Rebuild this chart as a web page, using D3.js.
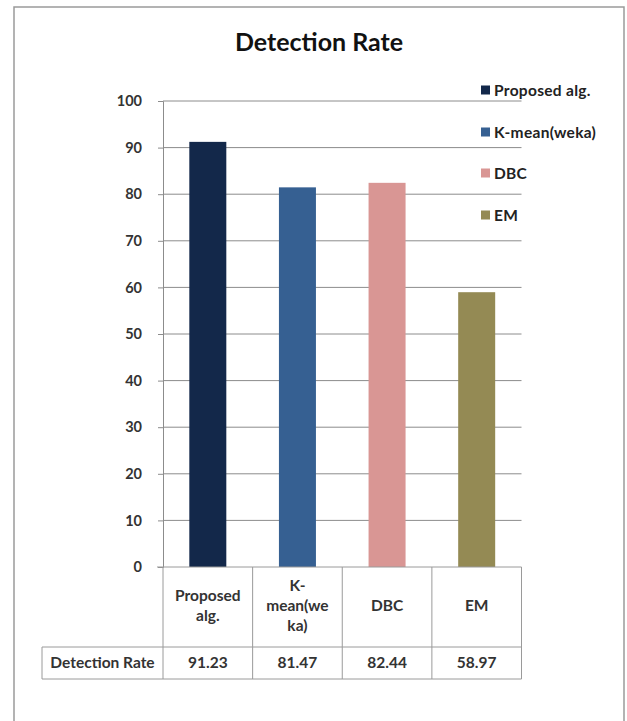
<!DOCTYPE html>
<html><head><meta charset="utf-8">
<script src="https://cdn.jsdelivr.net/npm/d3@7"></script>
<style>body{margin:0;background:#fff}svg{display:block}</style>
</head><body>
<script>
const categories = ["Proposed alg.", "K-mean(weka)", "DBC", "EM"];
const categoryLines = [["Proposed", "alg."], ["K-", "mean(we", "ka)"], ["DBC"], ["EM"]];
const values = [91.23, 81.47, 82.44, 58.97];
const valueLabels = ["91.23", "81.47", "82.44", "58.97"];
const yTicks = [0, 10, 20, 30, 40, 50, 60, 70, 80, 90, 100];
const colors = ["#13284a", "#366092", "#d99694", "#948a54"];
const rowLabel = "Detection Rate";
const chartTitle = "Detection Rate";

(function () {
const W = 627, H = 721;
const font = "Lato, 'Open Sans', sans-serif";
const svg = d3.select("body").append("svg").attr("width", W).attr("height", H);

// frame
svg.append("path").attr("d", `M14,${H} V7 H624 V${H}`).attr("fill", "none").attr("stroke", "#9a9a9a").attr("stroke-width", 1.5);

const pLeft = 163, pRight = 521.5, pTop = 101, pBottom = 567;
const x = d3.scaleBand().domain(categories).range([pLeft, pRight]).paddingInner(0).paddingOuter(0);
const y = d3.scaleLinear().domain([0, 100]).range([pBottom, pTop]);

// title
svg.append("text").attr("x", 319).attr("y", 51).attr("text-anchor", "middle")
  .attr("font-family", font).attr("font-weight", 700).attr("font-size", 25).attr("fill", "#111").text(chartTitle);

// grid
svg.append("g").selectAll("line").data(yTicks.filter(d => d > 0)).join("line")
  .attr("x1", pLeft).attr("x2", pRight).attr("y1", d => y(d)).attr("y2", d => y(d))
  .attr("stroke", "#8c8c8c").attr("stroke-width", 1);

// y axis
const yAxis = svg.append("g").attr("transform", `translate(${pLeft},0)`)
  .call(d3.axisLeft(y).tickValues(yTicks).tickSize(5).tickPadding(16));
yAxis.select(".domain").attr("stroke", "#8c8c8c");
yAxis.selectAll(".tick line").attr("stroke", "#8c8c8c");
yAxis.selectAll("text").attr("font-family", font).attr("font-weight", 700).attr("font-size", 14.5).attr("fill", "#333");

// bars
const bw = 37;
svg.append("g").selectAll("rect").data(values).join("rect")
  .attr("x", (d, i) => x(categories[i]) + x.bandwidth() / 2 - bw / 2)
  .attr("width", bw)
  .attr("y", d => y(d))
  .attr("height", d => y(0) - y(d))
  .attr("fill", (d, i) => colors[i]);

// data table
const tStroke = "#9a9a9a";
const row1Bottom = 647, row2Bottom = 679, tableLeft = 42;
const tg = svg.append("g").attr("fill", "none").attr("stroke", tStroke).attr("stroke-width", 1);
tg.append("line").attr("x1", pLeft - 6).attr("x2", pRight).attr("y1", pBottom).attr("y2", pBottom);
tg.append("line").attr("x1", tableLeft).attr("x2", pRight).attr("y1", row1Bottom).attr("y2", row1Bottom);
tg.append("line").attr("x1", tableLeft).attr("x2", pRight).attr("y1", row2Bottom).attr("y2", row2Bottom);
tg.append("line").attr("x1", tableLeft).attr("x2", tableLeft).attr("y1", row1Bottom).attr("y2", row2Bottom);
const bounds = categories.map(c => x(c)).concat([pRight]);
tg.selectAll("line.v").data(bounds).join("line").attr("class", "v")
  .attr("x1", d => d).attr("x2", d => d).attr("y1", pBottom).attr("y2", row2Bottom);

// category labels
const lh = 20, fs = 15.5;
categories.forEach((c, i) => {
  const lines = categoryLines[i];
  const cx = x(c) + x.bandwidth() / 2;
  const cy = 611;
  lines.forEach((ln, j) => {
    svg.append("text").attr("x", cx).attr("y", cy + (j - (lines.length - 1) / 2) * lh)
      .attr("text-anchor", "middle").attr("font-family", font).attr("font-weight", 700)
      .attr("font-size", fs).attr("fill", "#333").text(ln);
  });
  svg.append("text").attr("x", cx).attr("y", 668)
    .attr("text-anchor", "middle").attr("font-family", font).attr("font-weight", 700)
    .attr("font-size", fs).attr("fill", "#333").text(valueLabels[i]);
});
svg.append("text").attr("x", (tableLeft + pLeft) / 2).attr("y", 668)
  .attr("text-anchor", "middle").attr("font-family", font).attr("font-weight", 700)
  .attr("font-size", fs).attr("fill", "#333").text(rowLabel);

// legend
const legY = [90, 132, 173, 215];
const lg = svg.append("g").selectAll("g").data(categories).join("g")
  .attr("transform", (d, i) => `translate(481,${legY[i]})`);
lg.append("rect").attr("x", 0).attr("y", -4.5).attr("width", 9).attr("height", 9).attr("fill", (d, i) => colors[i]);
lg.append("text").attr("x", 13).attr("y", 5.5).attr("font-family", font).attr("font-weight", 700)
  .attr("font-size", 15.5).attr("letter-spacing", 0.3).attr("fill", "#222").text(d => d);
})();
</script>
</body></html>
